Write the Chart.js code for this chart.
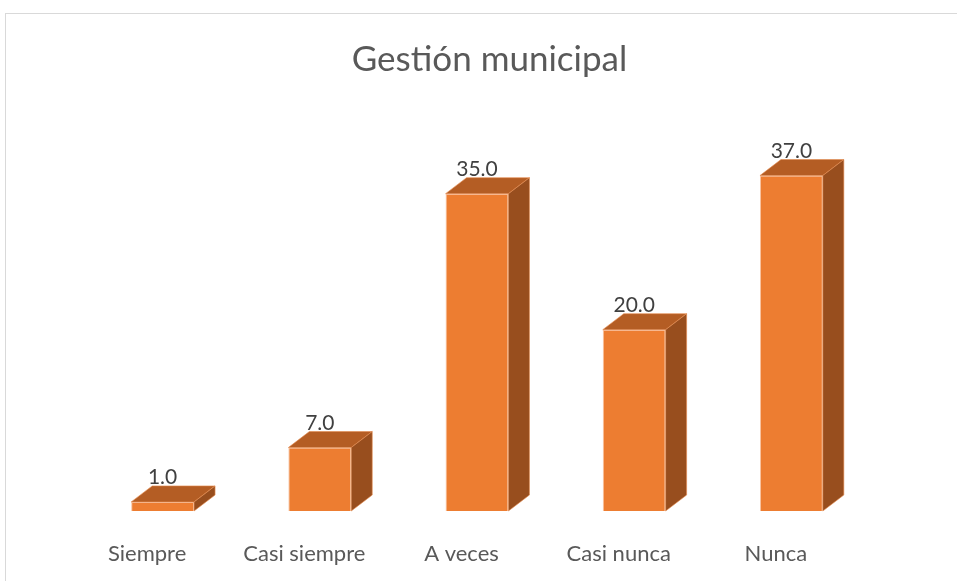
<!DOCTYPE html>
<html>
<head>
<meta charset="utf-8">
<script src="https://cdn.jsdelivr.net/npm/chart.js@4/dist/chart.umd.min.js"></script>
<style>
  html, body { margin: 0; padding: 0; background: #fff; overflow: hidden; }
  #wrap { position: relative; width: 957px; height: 581px; }
  #frame { position: absolute; left: 5px; top: 13px; width: 1000px; height: 1000px; border: 1.5px solid #d9d9d9; box-sizing: border-box; }
  canvas { position: absolute; left: 0; top: 0; }
</style>
</head>
<body>
<div id="wrap">
  <div id="frame"></div>
  <canvas id="c" width="957" height="581"></canvas>
</div>
<script>
const categories = ["Siempre", "Casi siempre", "A veces", "Casi nunca", "Nunca"];
const values = [1.0, 7.0, 35.0, 20.0, 37.0];
const chartTitle = "Gestión municipal";

const DEPTH_X = 21, DEPTH_Y = 16;
const FRONT = "#ED7D31", TOP = "#B45D24", SIDE = "#984E1E";

const bar3d = {
  id: "bar3d",
  afterDatasetsDraw(chart) {
    const ctx = chart.ctx;
    const meta = chart.getDatasetMeta(0);
    ctx.save();
    meta.data.forEach((bar, i) => {
      const w = bar.width;
      const l = bar.x - w / 2, r = bar.x + w / 2;
      const t = bar.y, b = bar.base;
      // top face
      ctx.beginPath();
      ctx.moveTo(l, t);
      ctx.lineTo(l + DEPTH_X, t - DEPTH_Y);
      ctx.lineTo(r + DEPTH_X, t - DEPTH_Y);
      ctx.lineTo(r, t);
      ctx.closePath();
      ctx.fillStyle = TOP;
      ctx.fill();
      ctx.strokeStyle = "rgba(230,140,80,0.6)";
      ctx.lineWidth = 1;
      ctx.stroke();
      // side face
      ctx.beginPath();
      ctx.moveTo(r, t);
      ctx.lineTo(r + DEPTH_X, t - DEPTH_Y);
      ctx.lineTo(r + DEPTH_X, b - DEPTH_Y);
      ctx.lineTo(r, b);
      ctx.closePath();
      ctx.fillStyle = SIDE;
      ctx.fill();
      ctx.stroke();
      // data label
      ctx.fillStyle = "#404040";
      ctx.font = "21px Lato";
      ctx.textAlign = "center";
      ctx.textBaseline = "alphabetic";
      ctx.fillText(values[i].toFixed(1), bar.x, t - DEPTH_Y - 2);
    });
    ctx.restore();
  }
};

new Chart(document.getElementById("c"), {
  type: "bar",
  data: {
    labels: categories,
    datasets: [{
      data: values,
      backgroundColor: FRONT,
      borderColor: "rgba(246,170,120,0.7)",
      borderWidth: 1,
      barPercentage: 0.4,
      categoryPercentage: 1.0
    }]
  },
  options: {
    responsive: false,
    animation: false,
    layout: { padding: { left: 84, right: 62, top: 0, bottom: -16.4 } },
    plugins: {
      legend: { display: false },
      tooltip: { enabled: false },
      title: {
        display: true,
        text: chartTitle,
        color: "#595959",
        font: { family: "Lato", size: 35, weight: "normal" },
        padding: { top: 39, bottom: 22 }
      }
    },
    scales: {
      y: {
        position: "right",
        min: 0, max: 45,
        grid: { display: false, drawTicks: false },
        border: { display: false },
        ticks: { display: false },
        afterFit: (s) => { s.width = 25; }
      },
      x: {
        grid: { display: false, drawTicks: false },
        border: { display: false },
        ticks: {
          color: "#595959",
          font: { family: "Lato", size: 22 },
          padding: 30,
          labelOffset: -15.5
        }
      }
    }
  },
  plugins: [bar3d]
});
</script>
</body>
</html>
